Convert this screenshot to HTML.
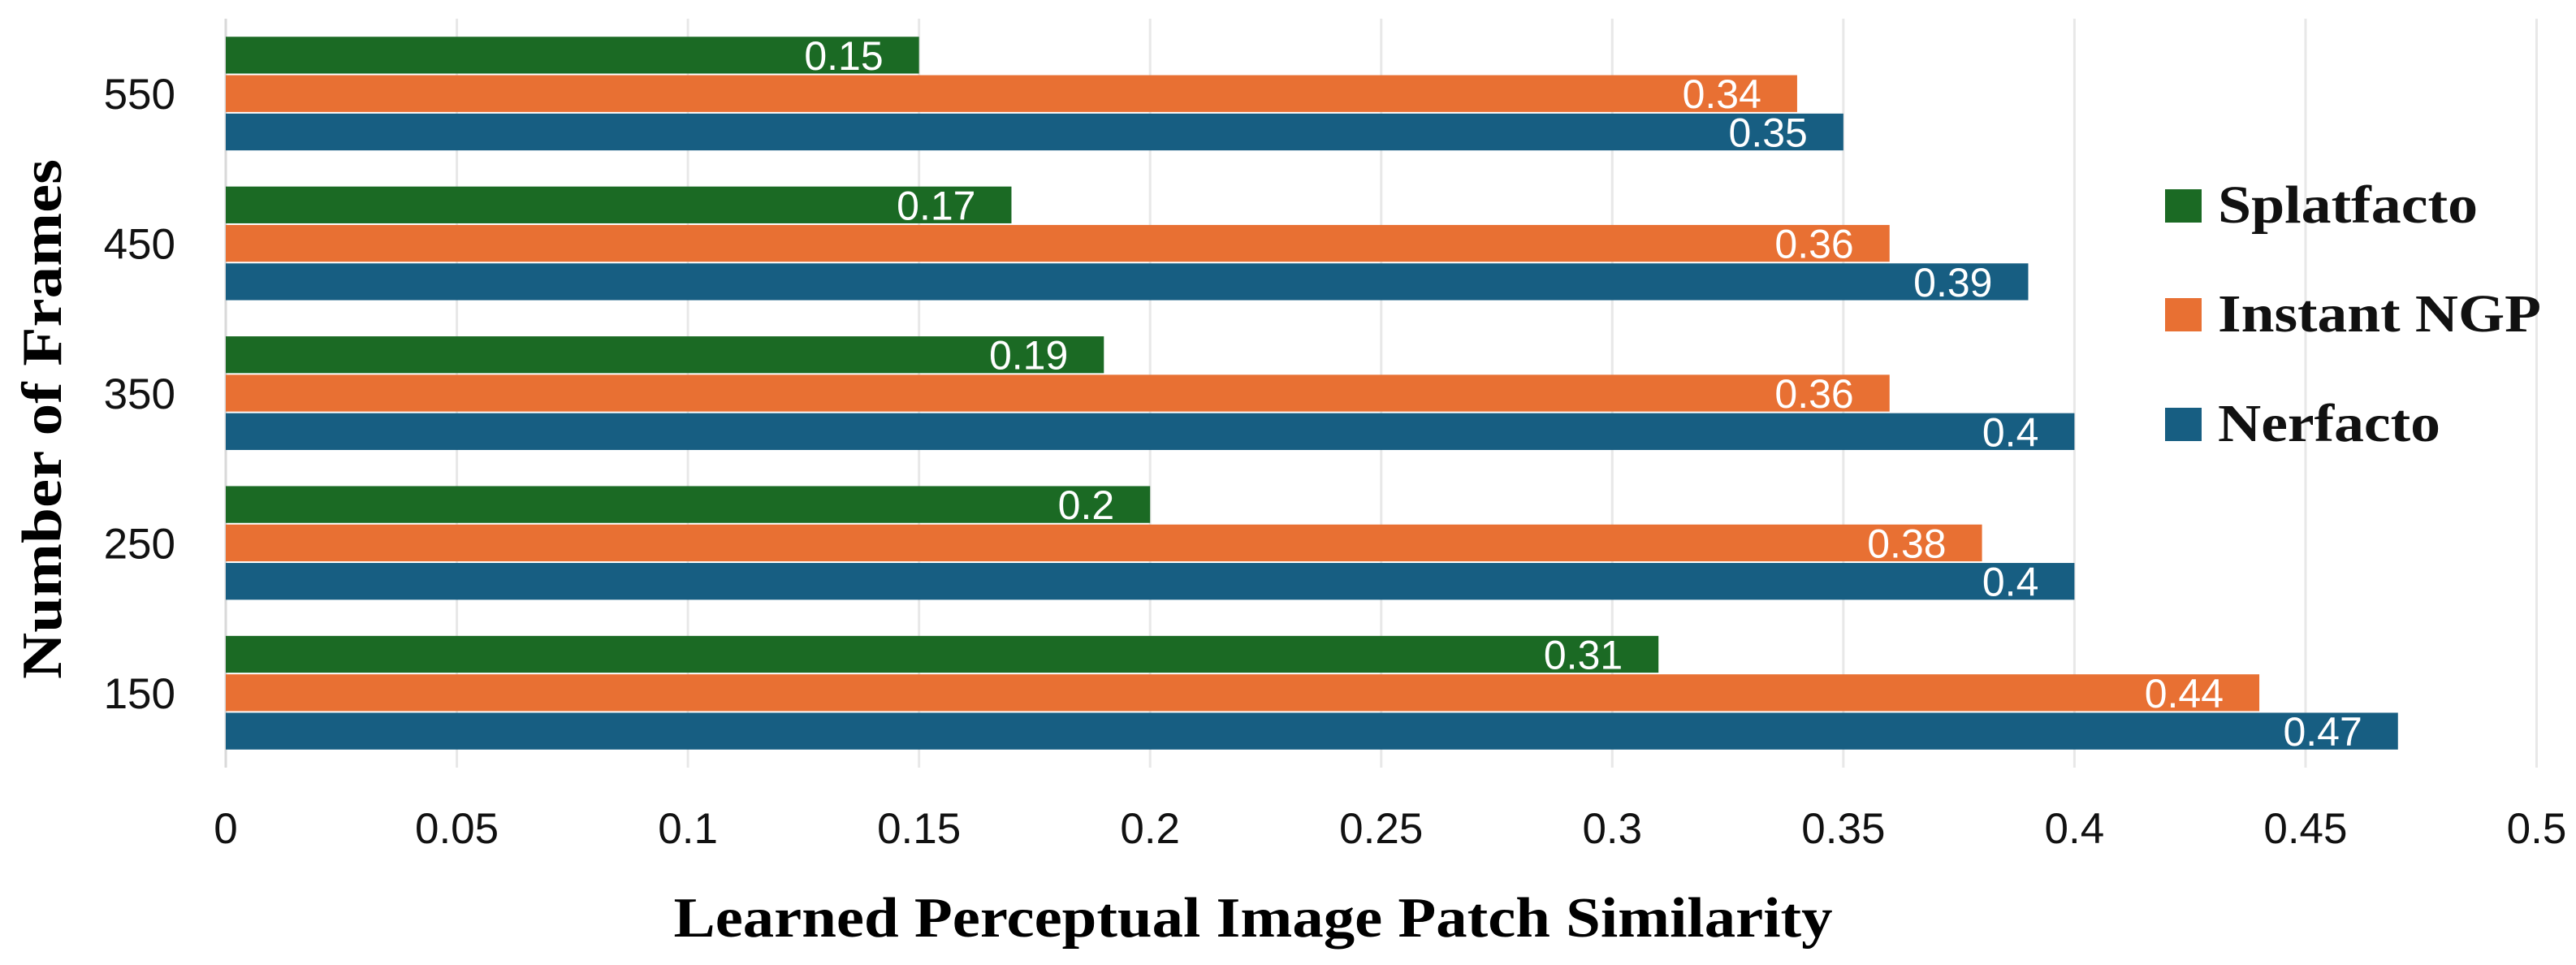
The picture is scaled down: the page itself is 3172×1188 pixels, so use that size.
<!DOCTYPE html>
<html><head><meta charset="utf-8"><style>
html,body{margin:0;padding:0;background:#fff;}
svg{display:block;}
</style></head><body>
<svg id="chart" width="3172" height="1188" viewBox="0 0 3172 1188" xmlns="http://www.w3.org/2000/svg">
<g id="grid"></g>
<g id="bars"></g>
<g id="xticks"></g>
<g id="yticks"></g>
<text x="1543" y="1153" text-anchor="middle" font-family="Liberation Serif, serif" font-weight="bold" font-size="70" textLength="1427" lengthAdjust="spacingAndGlyphs">Learned Perceptual Image Patch Similarity</text>
<text transform="translate(75,516) rotate(-90)" text-anchor="middle" font-family="Liberation Serif, serif" font-weight="bold" font-size="70" textLength="640" lengthAdjust="spacingAndGlyphs">Number of Frames</text>
<g id="legend"></g>
</svg>
<script>
const categories = ["550","450","350","250","150"];
const seriesNames = ["Splatfacto","Instant NGP","Nerfacto"];
const splatfacto = [0.15,0.17,0.19,0.2,0.31];
const instantNgp = [0.34,0.36,0.36,0.38,0.44];
const nerfacto = [0.35,0.39,0.4,0.4,0.47];
const xTicks = [0,0.05,0.1,0.15,0.2,0.25,0.3,0.35,0.4,0.45,0.5];
const xTickLabels = ["0","0.05","0.1","0.15","0.2","0.25","0.3","0.35","0.4","0.45","0.5"];

const colors = ["#1b6a24","#e87033","#175e82"];
const series = [splatfacto, instantNgp, nerfacto];
const NS = "http://www.w3.org/2000/svg";
const plotL = 278, plotTop = 23, plotBot = 945;
const xs = v => plotL + v * 5691;
const band = (plotBot - plotTop) / categories.length;
const barH = 47.3;
function mk(tag, attrs, parent){const e=document.createElementNS(NS,tag);for(const k in attrs)e.setAttribute(k,attrs[k]);parent.appendChild(e);return e;}
const grid=document.getElementById('grid'), bars=document.getElementById('bars'), xt=document.getElementById('xticks'), yt=document.getElementById('yticks'), lg=document.getElementById('legend');
xTicks.forEach((t,i)=>{
  const l=mk('line',{x1:xs(t),x2:xs(t),y1:plotTop,y2:plotBot,stroke:i===0?'#d9d9d9':'#e8e8e8','stroke-width':3},grid);
  
  
  const tx=mk('text',{x:xs(t),y:1038,'text-anchor':'middle','font-family':'Liberation Sans, sans-serif','font-size':53,fill:'#111'},xt);
  tx.textContent=xTickLabels[i];
  
  
});
categories.forEach((c,ci)=>{
  const center = plotTop + band*(ci+0.5);
  const ty=mk('text',{x:216,y:center+19,'text-anchor':'end','font-family':'Liberation Sans, sans-serif','font-size':53,fill:'#111'},yt);
  ty.textContent=c;
  
  
  series.forEach((s,si)=>{
    const y = center - 1.5*barH + si*barH;
    const w = xs(s[ci]) - plotL;
    const r=mk('rect',{x:plotL,y:y+1,width:w,height:barH-2,fill:colors[si]},bars);
    
    
    const v=mk('text',{x:xs(s[ci])-44,y:y+barH/2+18,'text-anchor':'end','font-family':'Liberation Sans, sans-serif','font-size':50,fill:'#fff'},bars);
    v.textContent=String(s[ci]);
    
    
  });
});
const legY=[233,367,502];
const legW=[320,398,274];
seriesNames.forEach((n,i)=>{
  const sq=mk('rect',{x:2666,y:legY[i],width:45,height:41,fill:colors[i]},lg);
  
  
  const t=mk('text',{x:2731,y:legY[i]+41,'font-family':'Liberation Serif, serif','font-weight':'bold','font-size':66,fill:'#111',textLength:legW[i],lengthAdjust:'spacingAndGlyphs'},lg);
  t.textContent=n;
  
  
});
</script>
</body></html>
